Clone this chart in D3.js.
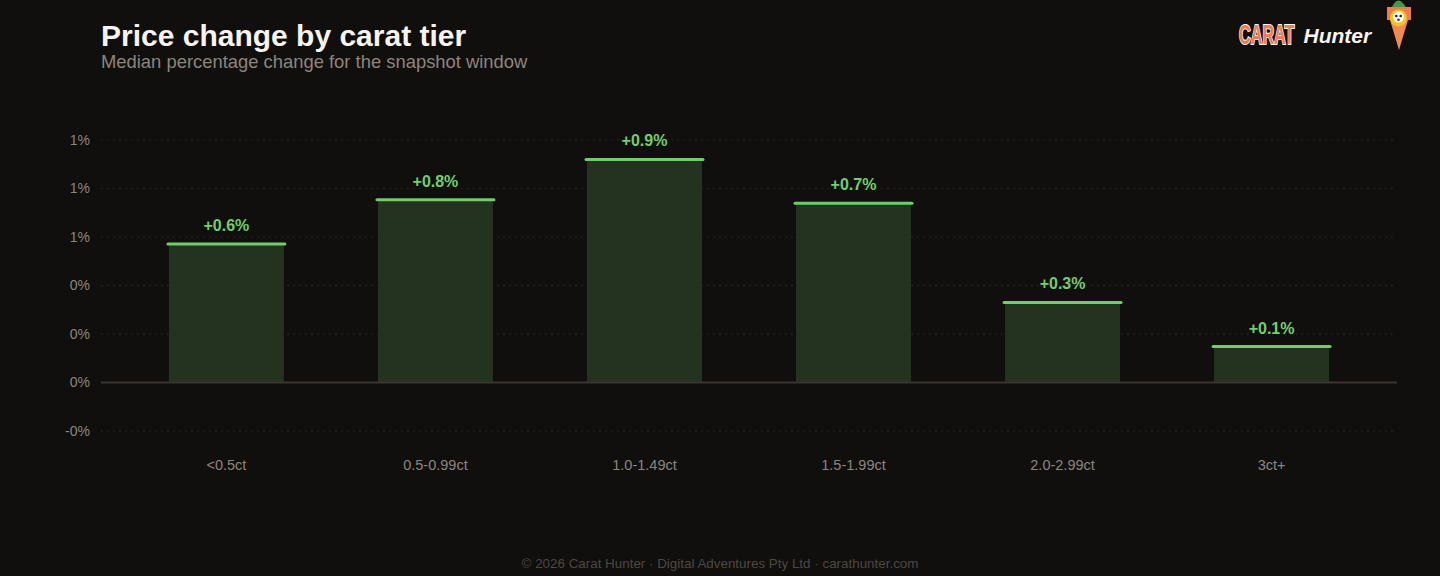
<!DOCTYPE html>
<html>
<head>
<meta charset="utf-8">
<script src="https://cdn.jsdelivr.net/npm/d3@7/dist/d3.min.js"></script>
<style>
  html, body { margin: 0; padding: 0; background: #100f0e; }
  svg { display: block; font-family: "Liberation Sans", Arial, sans-serif; }
</style>
</head>
<body>
<svg id="chart" width="1440" height="576"></svg>
<script>
// data
const tiers = ["<0.5ct", "0.5-0.99ct", "1.0-1.49ct", "1.5-1.99ct", "2.0-2.99ct", "3ct+"]
const medianChange = [0.571, 0.754, 0.92, 0.739, 0.33, 0.148]
const yTicks = [-0.2, 0, 0.2, 0.4, 0.6, 0.8, 1.0]

const W = 1440, H = 576
const margin = { top: 140, right: 43, bottom: 145, left: 101 }
const width = W - margin.left - margin.right
const height = H - margin.top - margin.bottom

const svg = d3.select("#chart")

svg.append("rect").attr("width", W).attr("height", H).attr("fill", "#100f0e")

// title block
svg.append("text")
    .attr("x", 101).attr("y", 46)
    .attr("fill", "#f7f3ee")
    .attr("font-size", "30px").attr("font-weight", "700")
    .text("Price change by carat tier")
svg.append("text")
    .attr("x", 101).attr("y", 68)
    .attr("fill", "#8b857d")
    .attr("font-size", "18.4px")
    .text("Median percentage change for the snapshot window")

const group = svg.append("g")
    .attr("transform", `translate(${margin.left}, ${margin.top})`)

// scales
const xScale = d3.scaleBand()
    .domain(tiers)
    .range([0, width])
    .paddingInner(0.45)
    .paddingOuter(0.325)

const yScale = d3.scaleLinear()
    .domain([-0.2, 1.0])
    .range([height, 0])

// grid lines
group.append("g")
    .selectAll("line")
    .data(yTicks)
    .enter()
    .append("line")
        .attr("x1", 0).attr("x2", width)
        .attr("y1", d => yScale(d)).attr("y2", d => yScale(d))
        .attr("stroke", "#252320")
        .attr("stroke-width", 1)
        .attr("stroke-dasharray", "2,4")

// y axis labels (toFixed keeps the "-0" that the reference shows)
const yAxis = group.append("g")
    .call(d3.axisLeft(yScale).tickValues(yTicks).tickSize(0).tickPadding(11)
        .tickFormat(d => d.toFixed(0) + "%"))
yAxis.select(".domain").remove()
yAxis.selectAll("text")
    .attr("fill", "#8b857e")
    .attr("font-size", "14px")
    .attr("font-family", "Liberation Sans, Arial, sans-serif")

// bars
group.append("g")
    .selectAll("rect")
    .data(medianChange)
    .enter()
    .append("rect")
        .attr("x", (d, i) => xScale(tiers[i]))
        .attr("y", d => yScale(d))
        .attr("width", xScale.bandwidth())
        .attr("height", d => yScale(0) - yScale(d))
        .attr("fill", "#243320")

// zero line
group.append("line")
    .attr("x1", 0).attr("x2", width)
    .attr("y1", yScale(0)).attr("y2", yScale(0))
    .attr("stroke", "#3a3530")
    .attr("stroke-width", 2)

// top caps
group.append("g")
    .selectAll("line")
    .data(medianChange)
    .enter()
    .append("line")
        .attr("x1", (d, i) => xScale(tiers[i]) - 1)
        .attr("x2", (d, i) => xScale(tiers[i]) + xScale.bandwidth() + 1)
        .attr("y1", d => yScale(d)).attr("y2", d => yScale(d))
        .attr("stroke", "#6fcf67")
        .attr("stroke-width", 3)
        .attr("stroke-linecap", "round")

// value labels
group.append("g")
    .selectAll("text")
    .data(medianChange)
    .enter()
    .append("text")
        .attr("x", (d, i) => xScale(tiers[i]) + xScale.bandwidth() / 2)
        .attr("y", d => yScale(d) - 13)
        .attr("text-anchor", "middle")
        .attr("fill", "#72cf6a")
        .attr("font-size", "16px")
        .attr("font-weight", "700")
        .text(d => "+" + d3.format(".1f")(d) + "%")

// x labels
const xAxis = group.append("g")
    .attr("transform", `translate(0, ${height})`)
    .call(d3.axisBottom(xScale).tickSize(0).tickPadding(29))
xAxis.select(".domain").remove()
xAxis.selectAll("text")
    .attr("fill", "#8b857e")
    .attr("font-size", "14.5px")
    .attr("font-family", "Liberation Sans, Arial, sans-serif")

// footer
svg.append("text")
    .attr("x", 720).attr("y", 568)
    .attr("text-anchor", "middle")
    .attr("fill", "#4c4843")
    .attr("font-size", "13.4px")
    .text("\u00a9 2026 Carat Hunter \u00b7 Digital Adventures Pty Ltd \u00b7 carathunter.com")

// logo - condensed wordmark done with a horizontal squeeze
const logo = svg.append("g")
logo.append("g")
    .attr("transform", "translate(1239, 44) scale(0.6, 1)")
    .append("text")
        .attr("x", 0).attr("y", 0)
        .attr("font-weight", "700")
        .attr("font-size", "27px")
        .attr("fill", "#f07a52")
        .attr("stroke", "#ffffff").attr("stroke-width", 2)
        .attr("paint-order", "stroke")
        .text("CARAT")
logo.append("text")
    .attr("x", 1303.5).attr("y", 43)
    .attr("font-weight", "700").attr("font-style", "italic")
    .attr("font-size", "21px")
    .attr("fill", "#f7f3ee")
    .text("Hunter")

// carrot mascot
const carrot = logo.append("g")
carrot.append("path")
    .attr("d", "M1391,9 Q1398,-8 1407,9 Z")
    .attr("fill", "#3f9a4a")
carrot.append("path")
    .attr("d", "M1387,10 L1411,10 L1399,50 Z")
    .attr("fill", "#f08a55")
carrot.append("rect")
    .attr("x", 1387).attr("y", 7).attr("width", 24).attr("height", 13)
    .attr("fill", "#f07a52")
carrot.append("circle")
    .attr("cx", 1398.5).attr("cy", 18).attr("r", 8.5)
    .attr("fill", "#f5c518")
carrot.append("circle")
    .attr("cx", 1398.5).attr("cy", 17).attr("r", 5.5)
    .attr("fill", "#ffffff")
carrot.append("circle").attr("cx", 1396.3).attr("cy", 16).attr("r", 1.3).attr("fill", "#222")
carrot.append("circle").attr("cx", 1400.7).attr("cy", 16).attr("r", 1.3).attr("fill", "#222")
carrot.append("circle").attr("cx", 1398.5).attr("cy", 19.8).attr("r", 1.4).attr("fill", "#444")
</script>
</body>
</html>
